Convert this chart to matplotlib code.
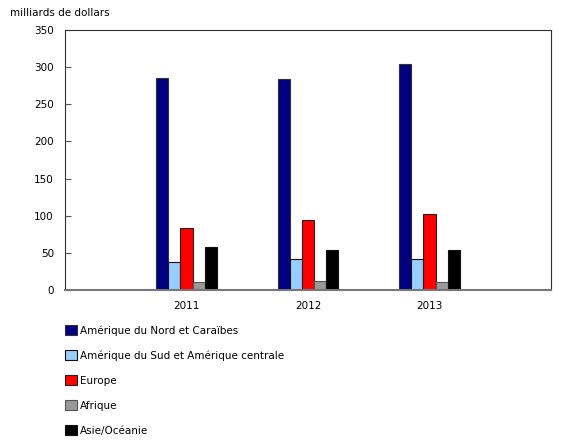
import matplotlib
matplotlib.use("Agg")
import matplotlib.pyplot as plt
import numpy as np

years = ["2011", "2012", "2013"]
regions = [
    "Amérique du Nord et Caraïbes",
    "Amérique du Sud et Amérique centrale",
    "Europe",
    "Afrique",
    "Asie/Océanie",
]
nord_caraibes = [284.6, 284.0, 304.7]
sud_centrale = [37.3, 41.3, 42.2]
europe = [83.0, 93.8, 101.8]
afrique = [10.3, 11.7, 10.3]
asie_oceanie = [57.4, 54.3, 53.8]

colors = ["#000080", "#99ccff", "#ff0000", "#999999", "#000000"]
edges = ["#333333", "#111111", "#222222", "#555555", "#111111"]

series = [nord_caraibes, sud_centrale, europe, afrique, asie_oceanie]

fig = plt.figure(figsize=(5.8, 4.45), dpi=100)
ax = fig.add_axes([0.112, 0.348, 0.838, 0.585])

x = np.arange(1, len(years) + 1)
width = 0.1
handles = []
for i, (vals, c, ec, lab) in enumerate(zip(series, colors, edges, regions)):
    h = ax.bar(x + (i - 2) * width, vals, width, color=c, edgecolor=ec,
               linewidth=0.8, label=lab, zorder=3)
    handles.append(h)

ax.set_xlim(0, 4)
ax.set_ylim(0, 350)
ax.set_yticks(np.arange(0, 351, 50))
ax.set_xticks(x)
ax.set_xticklabels(years)
ax.tick_params(axis="y", direction="in", length=4, width=0.8, color="#555555",
               labelsize=7.5, pad=8)
ax.tick_params(axis="x", length=0, labelsize=7.5, pad=8)
for side in ["top", "right", "left"]:
    ax.spines[side].set_color("#333333")
    ax.spines[side].set_linewidth(0.8)
ax.spines["bottom"].set_color("#777777")
ax.spines["bottom"].set_linewidth(1.5)
ax.spines["bottom"].set_zorder(4)

fig.text(0.017, 0.982, "milliards de dollars", fontsize=7.5, va="top", ha="left")

fig.legend(handles=handles, labels=regions, loc="upper left",
           bbox_to_anchor=(0.105, 0.278), frameon=False, fontsize=7.5,
           labelspacing=1.38, handlelength=1.1, handleheight=1.1,
           handletextpad=0.35, borderaxespad=0)

fig.savefig("out.png", dpi=100)
